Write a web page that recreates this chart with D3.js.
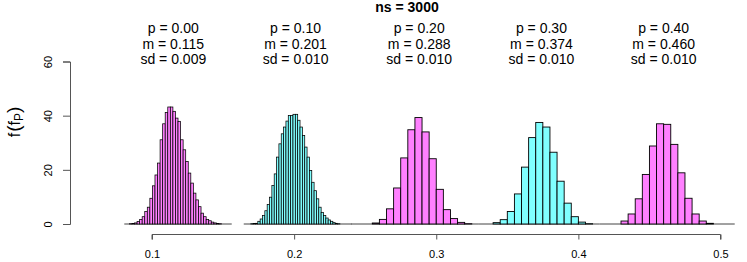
<!DOCTYPE html>
<html>
<head>
<meta charset="utf-8">
<script src="https://cdn.jsdelivr.net/npm/d3@7"></script>
<style>
  html, body { margin: 0; padding: 0; background: #fff; }
  svg { display: block; font-family: "Liberation Sans", Arial, Helvetica, sans-serif; }
</style>
</head>
<body>
<svg id="chart" width="747" height="262"></svg>
<script>
// ---- data ----
const titleText = "ns = 3000";
const xTicks = [0.1, 0.2, 0.3, 0.4, 0.5];
const yTicks = [0, 20, 40, 60];
const panelP = ["0.00", "0.10", "0.20", "0.30", "0.40"];
const panelM = ["0.115", "0.201", "0.288", "0.374", "0.460"];
const panelSD = ["0.009", "0.010", "0.010", "0.010", "0.010"];
const breakStart = [0.0805, 0.16455, 0.24, 0.33, 0.415];
const binWidth = [0.0018, 0.00165, 0.005, 0.005, 0.005];
const hist1 = [0,0,0.1,0.2,0.4,0.9,1.7,2.7,4.6,6.2,9.5,14.1,18.1,22.5,31.1,37,41.2,43.2,43.2,41.6,39.1,37.9,31.1,27.4,23.1,18.8,15.1,11.4,8.9,6.4,4.0,2.7,1.7,1.2,0.7,0.4,0.2,0.1,0,0,0,0];
const hist2 = [0,0,0,0.1,0.15,0.25,1.0,1.85,3.1,4.9,7.2,9.9,14.2,18.5,24.7,29.6,33.3,35.8,38.0,40.1,40.1,40.5,40.5,38.3,35.8,32.7,28.4,24.7,19.8,15.4,12.3,9.3,6.2,4.3,3.1,2.2,1.5,1.0,0.5,0.25,0.1,0,0,0,0,0];
const hist3 = [0,0,0,0.37,1.7,5.6,13.3,24.4,34.8,39.3,34.0,24.1,12.8,5.3,2.0,0.6,0.1,0];
const hist4 = [0,0,0.5,1.6,4.6,11.1,21.0,31.9,37.5,35.8,26.5,15.8,7.7,2.7,0.7,0.1,0];
const hist5 = [0,0,0,1.1,3.7,9.3,18.3,28.8,37.0,36.8,29.4,18.9,9.5,3.7,1.1,0.25,0,0,0];
const histFills = ["#FF80FF", "#80FFFF", "#FF80FF", "#80FFFF", "#FF80FF"];

const hists = [hist1, hist2, hist3, hist4, hist5];

// ---- scales ----
const x = d3.scaleLinear().domain([0.1, 0.5]).range([152, 720.5]);
const y = d3.scaleLinear().domain([0, 60]).range([224, 61.5]);

const svg = d3.select("#chart");

// histograms
hists.forEach((vals, i) => {
  const bins = vals.map((d, j) => ({
    x0: breakStart[i] + j * binWidth[i],
    x1: breakStart[i] + (j + 1) * binWidth[i],
    d: d
  }));
  const g = svg.append("g");
  g.append("line")
    .attr("x1", x(bins[0].x0)).attr("x2", x(bins[bins.length - 1].x1))
    .attr("y1", y(0)).attr("y2", y(0))
    .attr("stroke", "#444").attr("stroke-width", 1);
  g.selectAll("rect").data(bins.filter(b => b.d > 0)).join("rect")
    .attr("x", b => x(b.x0))
    .attr("width", b => x(b.x1) - x(b.x0))
    .attr("y", b => y(b.d))
    .attr("height", b => y(0) - y(b.d))
    .attr("fill", histFills[i])
    .attr("stroke", "#000")
    .attr("stroke-width", binWidth[i] < 0.003 ? 0.75 : 0.9);
});

// y axis
const yAxis = d3.axisLeft(y).tickValues(yTicks).tickSize(7).tickPadding(0).tickFormat(d3.format("d"));
const gy = svg.append("g").attr("transform", "translate(70,0)").call(yAxis);
gy.select(".domain").attr("stroke", "#555");
gy.selectAll(".tick line").attr("stroke", "#555");
gy.selectAll(".tick text").remove();
gy.selectAll(".tick").append("text")
  .attr("transform", "translate(-22,0) rotate(-90)")
  .attr("text-anchor", "middle")
  .attr("dy", "0.35em")
  .attr("fill", "#000")
  .style("font-size", "11px")
  .text(d => d);

// x axis
const xAxis = d3.axisBottom(x).tickValues(xTicks).tickSize(5).tickPadding(0).tickFormat(d3.format(".1f"));
const gx = svg.append("g").attr("transform", "translate(0,234.5)").call(xAxis);
gx.select(".domain").attr("stroke", "#555").attr("d", `M${x(0.1)},5V0H${x(0.5)}V5`);
gx.selectAll(".tick line").attr("stroke", "#555");
gx.selectAll(".tick text")
  .attr("y", 23)
  .attr("dy", 0)
  .attr("fill", "#000")
  .style("font-size", "11px")
  .style("font-family", "'Liberation Sans', Arial, sans-serif");

// title
svg.append("text")
  .attr("x", 407).attr("y", 12)
  .attr("text-anchor", "middle")
  .style("font-size", "14px").style("font-weight", "bold")
  .text(titleText);

// panel annotations
panelM.forEach((m, i) => {
  const cx = x(+m);
  const t = svg.append("text").attr("text-anchor", "middle").style("font-size", "14px");
  t.append("tspan").attr("x", cx).attr("y", 33).text("p = " + panelP[i]);
  t.append("tspan").attr("x", cx).attr("y", 48.5).text("m = " + m);
  t.append("tspan").attr("x", cx).attr("y", 64).text("sd = " + panelSD[i]);
});

// y label
const yl = svg.append("text")
  .attr("transform", "translate(20,122) rotate(-90)")
  .attr("text-anchor", "middle")
  .style("font-size", "16px");
yl.append("tspan").text("f");
yl.append("tspan").attr("dx", 1).style("font-size", "19px").style("font-weight", "300").text("(");
yl.append("tspan").text("f");
yl.append("tspan").attr("dy", 3).style("font-size", "12px").text("P");
yl.append("tspan").attr("dy", -3).style("font-size", "19px").style("font-weight", "300").text(")");
</script>
</body>
</html>
